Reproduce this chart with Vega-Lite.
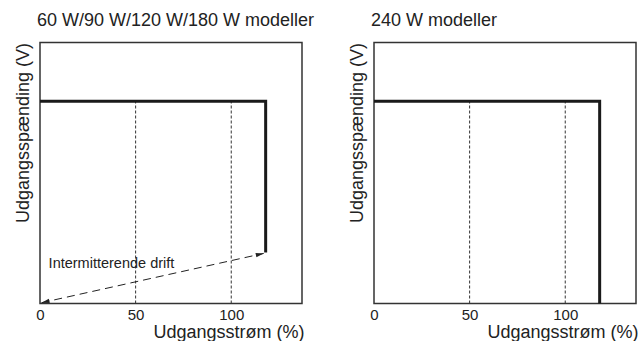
{
  "$schema": "https://vega.github.io/schema/vega-lite/v6.json",
  "padding": {"left": 13, "top": 10.5, "right": 0, "bottom": 0},
  "background": "white",
  "config": {
    "font": "Liberation Sans",
    "view": {"stroke": "#333", "strokeWidth": 1.5},
    "axis": {"labelFont": "Liberation Sans", "titleFont": "Liberation Sans", "labelColor": "#222", "titleColor": "#222", "labelFlush": false},
    "title": {"font": "Liberation Sans", "fontSize": 18, "fontWeight": "normal", "color": "#222", "anchor": "start", "frame": "group", "baseline": "alphabetic", "offset": 13, "dx": -3},
    "concat": {"spacing": 32}
  },
  "datasets": {
    "grid": [
      {"x": 50, "y": 0, "y2": 77.5},
      {"x": 100, "y": 0, "y2": 77.5}
    ],
    "curveA": [
      {"x": 0, "y": 77.5, "o": 1},
      {"x": 118, "y": 77.5, "o": 2},
      {"x": 118, "y": 19.5, "o": 3}
    ],
    "curveB": [
      {"x": 0, "y": 77.5, "o": 1},
      {"x": 118, "y": 77.5, "o": 2},
      {"x": 118, "y": 0, "o": 3}
    ],
    "arrow": [
      {"x": 0.8, "y": 0.3, "o": 1},
      {"x": 117, "y": 19.2, "o": 2}
    ],
    "heads": [
      {"x": 0.8, "y": 0.3, "dir": "left"},
      {"x": 117, "y": 19.2, "dir": "right"}
    ],
    "label": [
      {"x": 4.5, "y": 15, "text": "Intermitterende drift"}
    ]
  },
  "hconcat": [
    {
      "title": {"text": "60 W/90 W/120 W/180 W modeller"},
      "width": 262,
      "height": 261,
      "layer": [
        {
          "data": {"name": "grid"},
          "mark": {"type": "rule", "color": "#333", "strokeWidth": 1, "strokeDash": [3, 2]},
          "encoding": {
            "x": {"field": "x", "type": "quantitative", "scale": {"domain": [0, 137], "nice": false, "zero": false},
              "axis": {"values": [0, 50, 100], "grid": false, "ticks": false, "domain": false, "labelFontSize": 15, "labelPadding": 4, "labelBaseline": "top", "labelFlush": false,
                "title": "Udgangsstrøm (%)", "titleFontSize": 18, "titleFontWeight": "normal", "titleAlign": "right", "titleAnchor": "end", "titleX": 264, "titleY": 34, "titleBaseline": "alphabetic"}},
            "y": {"field": "y", "type": "quantitative", "scale": {"domain": [0, 100], "nice": false},
              "axis": {"labels": false, "ticks": false, "grid": false, "domain": false, "title": "Udgangsspænding (V)", "titleFontSize": 18, "titleFontWeight": "normal", "titleAnchor": "end", "titlePadding": 8}},
            "y2": {"field": "y2"}
          }
        },
        {
          "data": {"name": "curveA"},
          "mark": {"type": "line", "color": "#1a1a1a", "strokeWidth": 3, "strokeCap": "butt", "strokeJoin": "miter"},
          "encoding": {
            "x": {"field": "x", "type": "quantitative"},
            "y": {"field": "y", "type": "quantitative"},
            "order": {"field": "o"}
          }
        },
        {
          "data": {"name": "arrow"},
          "mark": {"type": "line", "color": "#222", "strokeWidth": 1, "strokeDash": [8, 5]},
          "encoding": {
            "x": {"field": "x", "type": "quantitative"},
            "y": {"field": "y", "type": "quantitative"},
            "order": {"field": "o"}
          }
        },
        {
          "data": {"name": "heads"},
          "transform": [{"filter": "datum.dir == 'right'"}],
          "mark": {"type": "point", "filled": true, "color": "#222", "opacity": 1, "size": 64, "angle": -12.7, "shape": "M0,0L-2,-0.55L-2,0.55Z"},
          "encoding": {
            "x": {"field": "x", "type": "quantitative"},
            "y": {"field": "y", "type": "quantitative"}
          }
        },
        {
          "data": {"name": "heads"},
          "transform": [{"filter": "datum.dir == 'left'"}],
          "mark": {"type": "point", "filled": true, "color": "#222", "opacity": 1, "size": 64, "angle": -12.7, "shape": "M0,0L2,-0.55L2,0.55Z"},
          "encoding": {
            "x": {"field": "x", "type": "quantitative"},
            "y": {"field": "y", "type": "quantitative"}
          }
        },
        {
          "data": {"name": "label"},
          "mark": {"type": "text", "align": "left", "baseline": "middle", "fontSize": 14.5, "color": "#222", "font": "Liberation Sans"},
          "encoding": {
            "x": {"field": "x", "type": "quantitative"},
            "y": {"field": "y", "type": "quantitative"},
            "text": {"field": "text"}
          }
        }
      ]
    },
    {
      "title": {"text": "240 W modeller"},
      "width": 262,
      "height": 261,
      "layer": [
        {
          "data": {"name": "grid"},
          "mark": {"type": "rule", "color": "#333", "strokeWidth": 1, "strokeDash": [3, 2]},
          "encoding": {
            "x": {"field": "x", "type": "quantitative", "scale": {"domain": [0, 137], "nice": false, "zero": false},
              "axis": {"values": [0, 50, 100], "grid": false, "ticks": false, "domain": false, "labelFontSize": 15, "labelPadding": 4, "labelBaseline": "top", "labelFlush": false,
                "title": "Udgangsstrøm (%)", "titleFontSize": 18, "titleFontWeight": "normal", "titleAlign": "right", "titleAnchor": "end", "titleX": 264, "titleY": 34, "titleBaseline": "alphabetic"}},
            "y": {"field": "y", "type": "quantitative", "scale": {"domain": [0, 100], "nice": false},
              "axis": {"labels": false, "ticks": false, "grid": false, "domain": false, "title": "Udgangsspænding (V)", "titleFontSize": 18, "titleFontWeight": "normal", "titleAnchor": "end", "titlePadding": 8}},
            "y2": {"field": "y2"}
          }
        },
        {
          "data": {"name": "curveB"},
          "mark": {"type": "line", "color": "#1a1a1a", "strokeWidth": 3, "strokeCap": "butt", "strokeJoin": "miter"},
          "encoding": {
            "x": {"field": "x", "type": "quantitative"},
            "y": {"field": "y", "type": "quantitative"},
            "order": {"field": "o"}
          }
        }
      ]
    }
  ]
}
